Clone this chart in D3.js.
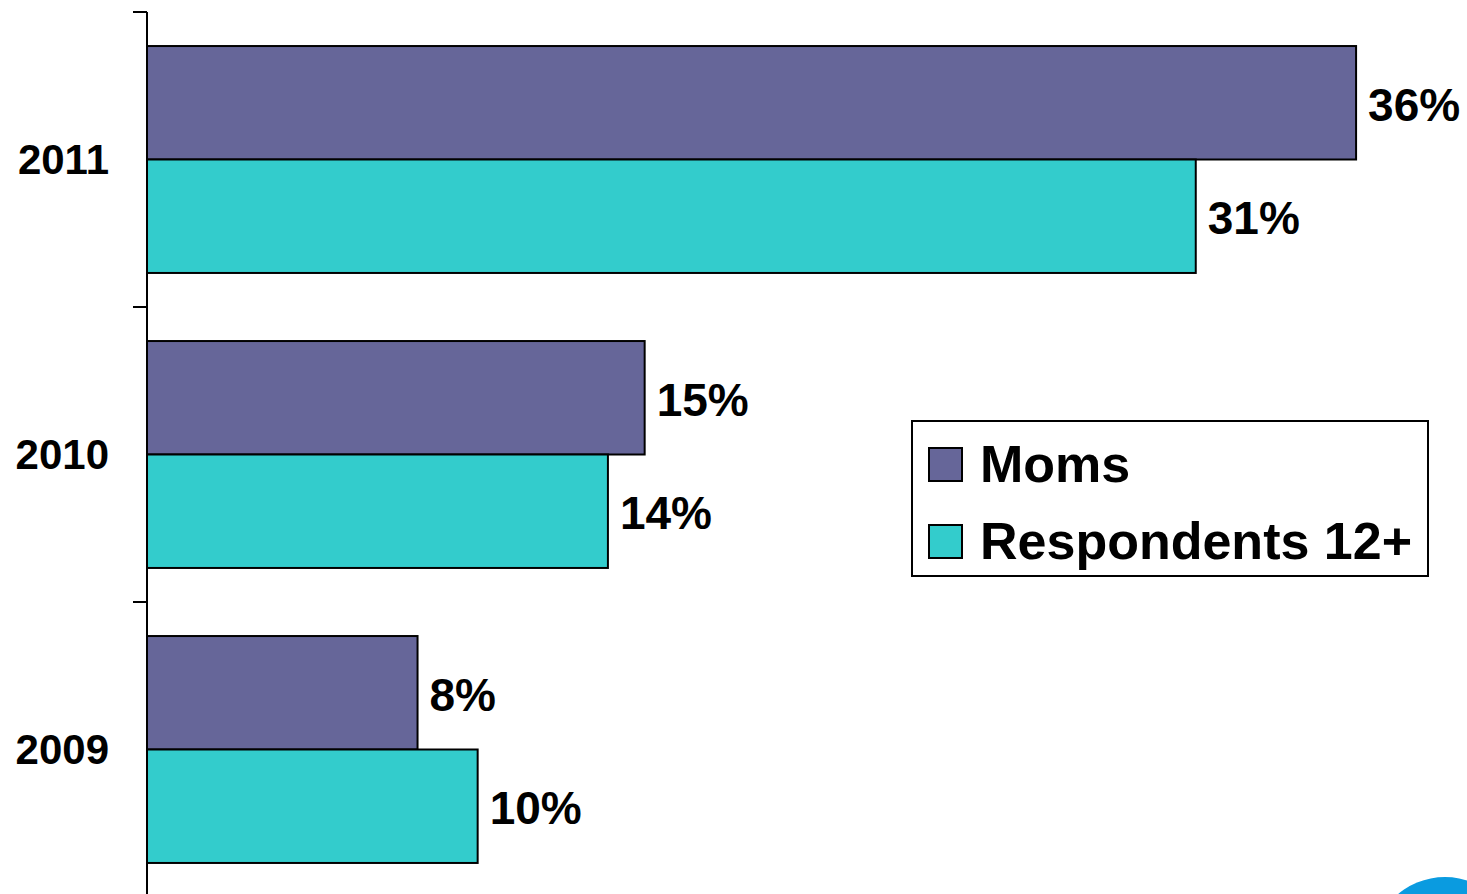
<!DOCTYPE html>
<html>
<head>
<meta charset="utf-8">
<script src="https://cdn.jsdelivr.net/npm/d3@7"></script>
<style>
  body { margin: 0; background: #fff; }
  svg { display: block; font-family: Arial, "Liberation Sans", sans-serif; }
</style>
</head>
<body>
<svg id="chart"></svg>
<script>
const years = ["2011", "2010", "2009"];
const series = ["Moms", "Respondents 12+"];
const moms = [36.2, 14.9, 8.1];
const respondents = [31.4, 13.8, 9.9];
const colors = ["#666699", "#33cccc"];

const W = 1467, H = 894;
const svg = d3.select("#chart").attr("width", W).attr("height", H);

const x = d3.scaleLinear().domain([0, 40]).range([147, 147 + 40 * 33.4]);
const y = d3.scaleBand().domain(years).range([12, 897]).padding(0);
const y1 = d3.scaleBand().domain(series).range([0, y.bandwidth()]).paddingOuter(0.3).paddingInner(0);

const rows = years.map((yr, i) => ({ year: yr, values: [moms[i], respondents[i]] }));

// bars
const g = svg.selectAll("g.year")
  .data(rows)
  .enter()
  .append("g")
  .attr("class", "year")
  .attr("transform", d => `translate(0,${y(d.year)})`);

g.selectAll("rect")
  .data(d => d.values.map((v, j) => ({ key: series[j], v, j })))
  .enter()
  .append("rect")
  .attr("x", x(0))
  .attr("y", d => y1(d.key))
  .attr("width", d => x(d.v) - x(0))
  .attr("height", y1.bandwidth())
  .attr("fill", d => colors[d.j])
  .attr("stroke", "#000")
  .attr("stroke-width", 2);

g.selectAll("text.val")
  .data(d => d.values.map((v, j) => ({ key: series[j], v, j })))
  .enter()
  .append("text")
  .attr("class", "val")
  .attr("x", d => x(d.v) + 12)
  .attr("y", d => y1(d.key) + y1.bandwidth() / 2 + 2)
  .attr("dy", "0.35em")
  .attr("font-size", 46)
  .attr("font-weight", "bold")
  .text(d => d3.format(".0f")(d.v) + "%");

// axis
svg.append("line")
  .attr("x1", x(0)).attr("x2", x(0))
  .attr("y1", y.range()[0]).attr("y2", y.range()[1])
  .attr("stroke", "#000").attr("stroke-width", 2);

const tickYs = years.map(d => y(d)).concat([y.range()[1]]);
svg.selectAll("line.tick")
  .data(tickYs)
  .enter()
  .append("line")
  .attr("class", "tick")
  .attr("x1", x(0) - 14).attr("x2", x(0))
  .attr("y1", d => d).attr("y2", d => d)
  .attr("stroke", "#000").attr("stroke-width", 2);

svg.selectAll("text.yr")
  .data(years)
  .enter()
  .append("text")
  .attr("class", "yr")
  .attr("x", 109)
  .attr("y", d => y(d) + y.bandwidth() / 2)
  .attr("dy", "0.35em")
  .attr("text-anchor", "end")
  .attr("font-size", 42)
  .attr("font-weight", "bold")
  .text(d => d);

// legend
const lg = svg.append("g").attr("transform", "translate(912,421)");
lg.append("rect")
  .attr("width", 516).attr("height", 155)
  .attr("fill", "#fff").attr("stroke", "#000").attr("stroke-width", 2);

const items = lg.selectAll("g.item")
  .data(series)
  .enter()
  .append("g")
  .attr("class", "item")
  .attr("transform", (d, i) => `translate(0,${27 + i * 77})`);

items.append("rect")
  .attr("x", 17).attr("width", 33).attr("height", 33)
  .attr("fill", (d, i) => colors[i])
  .attr("stroke", "#000").attr("stroke-width", 2);

items.append("text")
  .attr("x", 68)
  .attr("y", 34)
  .attr("font-size", 52)
  .attr("font-weight", "bold")
  .text(d => d);

// corner logo fragment
svg.append("circle")
  .attr("cx", 1445).attr("cy", 950).attr("r", 73)
  .attr("fill", "#0a9be0");
</script>
</body>
</html>
